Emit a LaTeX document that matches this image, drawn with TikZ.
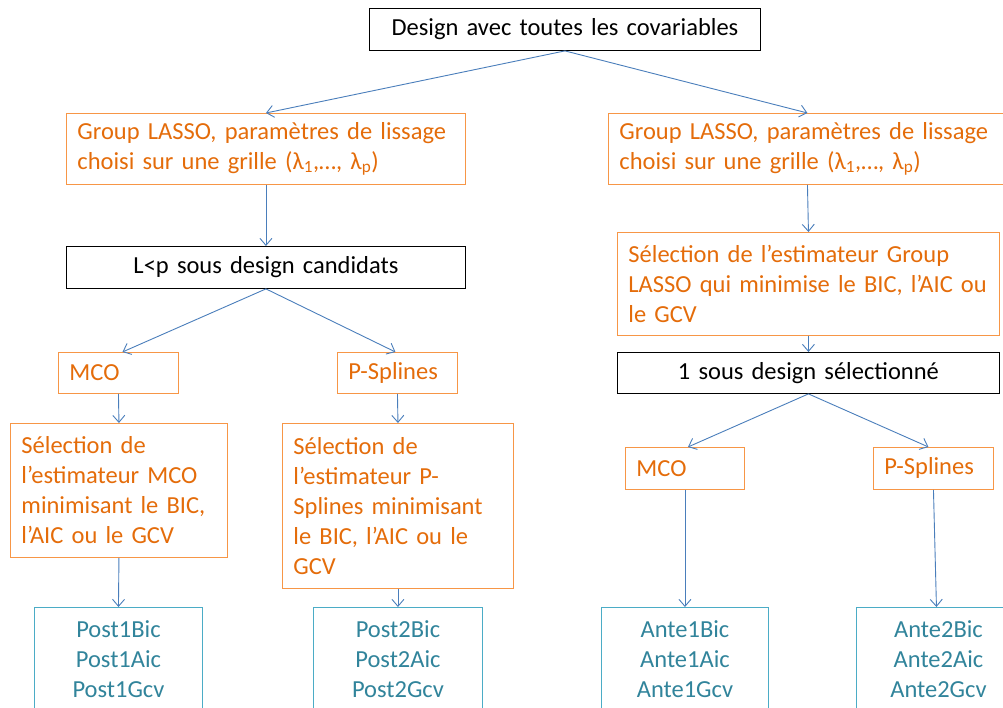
\documentclass[tikz,border=0pt]{standalone}
\usepackage{fontspec}
\setmainfont{Carlito}
\usetikzlibrary{arrows.meta}
\definecolor{orangetext}{HTML}{E46C0A}
\definecolor{orangeline}{HTML}{F79646}
\definecolor{tealtext}{HTML}{31849B}
\definecolor{tealline}{HTML}{4BACC6}
\definecolor{arrowblue}{HTML}{4A7EBB}
\newcommand{\fsz}{\fontsize{24.5pt}{30pt}\selectfont}
\tikzset{
  base/.style={rectangle, draw, line width=0.9pt, inner xsep=11pt, inner ysep=2pt, anchor=north west, font=\fsz},
  blk/.style={base, draw=black, text=black, align=center},
  org/.style={base, draw=orangeline, text=orangetext, align=left},
  tealbox/.style={base, draw=tealline, text=tealtext, align=center},
  conn/.style={draw=arrowblue, line width=0.9pt, -{Straight Barb[length=7pt,width=12pt]}},
}
\begin{document}
\begin{tikzpicture}[x=1pt,y=-1pt]
\useasboundingbox (0,0) rectangle (1003,708);
\clip (0,0) rectangle (1003,708);
\node[blk, minimum width=391pt, text width=369pt, minimum height=42pt] (top) at (369,8) {Design avec toutes les covariables};
\node[org, minimum width=399pt, text width=377pt, minimum height=71pt] (gl1) at (66,113) {Group LASSO, paramètres de lissage\\choisi sur une grille (λ\textsubscript{1},…, λ\textsubscript{p})};
\node[org, minimum width=398pt, text width=376pt, minimum height=71pt] (gl2) at (608,113) {Group LASSO, paramètres de lissage\\choisi sur une grille (λ\textsubscript{1},…, λ\textsubscript{p})};
\node[blk, minimum width=399pt, text width=377pt, minimum height=42pt] (lp) at (66,246) {L<p sous design candidats};
\node[org, minimum width=382pt, text width=360pt, minimum height=103pt] (sel2) at (617,232) {Sélection de l’estimateur Group\\LASSO qui minimise le BIC, l’AIC ou\\le GCV};
\node[blk, minimum width=382pt, text width=360pt, minimum height=41pt] (one) at (617,352) {1 sous design sélectionné};
\node[org, minimum width=120pt, text width=98pt, minimum height=41pt] (mco1) at (58,352) {MCO};
\node[org, minimum width=120pt, text width=98pt, minimum height=41pt] (ps1) at (337,352) {P-Splines};
\node[org, minimum width=217pt, text width=195pt, minimum height=134pt] (sel1a) at (10,423) {Sélection de\\l’estimateur MCO\\minimisant le BIC,\\l’AIC ou le GCV};
\node[org, minimum width=231pt, text width=209pt, minimum height=165pt] (sel1b) at (282,423) {Sélection de\\l’estimateur P-\\Splines minimisant\\le BIC, l’AIC ou le\\GCV};
\node[tealbox, minimum width=168pt, text width=146pt, minimum height=104pt] (post1) at (34,607) {Post1Bic\\Post1Aic\\Post1Gcv};
\node[tealbox, minimum width=169pt, text width=147pt, minimum height=104pt] (post2) at (313,607) {Post2Bic\\Post2Aic\\Post2Gcv};
\node[org, minimum width=119pt, text width=97pt, minimum height=42pt] (mco2) at (625,447) {MCO};
\node[org, minimum width=120pt, text width=98pt, minimum height=42pt] (ps2) at (873,447) {P-Splines};
\node[tealbox, minimum width=167pt, text width=145pt, minimum height=104pt] (ante1) at (601,607) {Ante1Bic\\Ante1Aic\\Ante1Gcv};
\node[tealbox, minimum width=164pt, text width=142pt, minimum height=104pt] (ante2) at (856,607) {Ante2Bic\\Ante2Aic\\Ante2Gcv};
\draw[conn] (top.south) -- (gl1.north);
\draw[conn] (top.south) -- (gl2.north);
\draw[conn] (gl1.south) -- (lp.north);
\draw[conn] (lp.south) -- ([xshift=4pt]mco1.north);
\draw[conn] (lp.south) -- ([xshift=-2pt]ps1.north);
\draw[conn] (mco1.south) -- (sel1a.north);
\draw[conn] (ps1.south) -- (sel1b.north);
\draw[conn] (sel1a.south) -- (post1.north);
\draw[conn] (sel1b.south) -- (post2.north);
\draw[conn] (gl2.south) -- (sel2.north);
\draw[conn] (sel2.south) -- (one.north);
\draw[conn] (one.south) -- ([xshift=3pt]mco2.north);
\draw[conn] (one.south) -- ([xshift=-5pt]ps2.north);
\draw[conn] (mco2.south) -- (ante1.north);
\draw[conn] (ps2.south) -- ([xshift=-2pt]ante2.north);
\end{tikzpicture}
\end{document}
